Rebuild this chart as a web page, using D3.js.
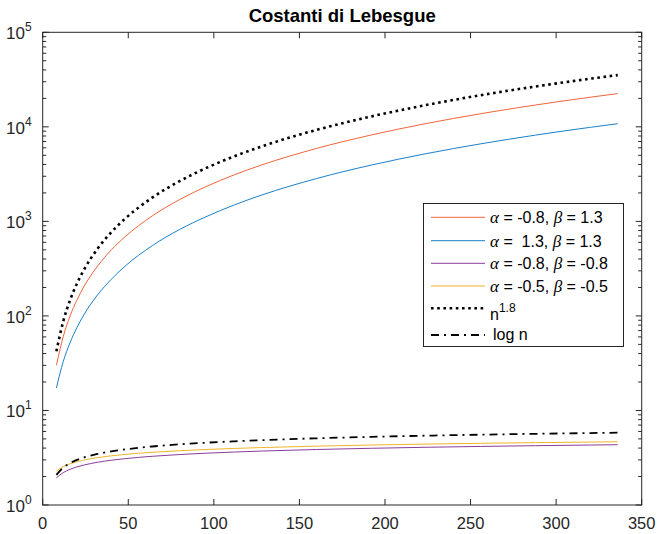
<!DOCTYPE html>
<html>
<head>
<meta charset="utf-8">
<script src="https://cdn.jsdelivr.net/npm/d3@7"></script>
<style>
  body { margin: 0; background: #fff; }
  svg { display: block; font-family: "Liberation Sans", Arial, sans-serif; }
</style>
</head>
<body>
<div id="chart"></div>
<script>
// grado n
const nValues = [8, 12, 16, 20, 24, 32, 40, 48, 64, 80, 96, 112, 128, 160, 192, 224, 256, 288, 320, 336];

// costanti di Lebesgue
const lebA = [30.0, 60.4, 100, 147, 203, 335, 497, 685, 1141, 1700, 2359, 3110, 3955, 5909, 8205, 10828, 13771, 17024, 20578, 22468];
const lebB = [17.3, 32.9, 52.2, 75.4, 102.2, 166.4, 243, 334.5, 553, 821, 1132, 1494, 1900, 2839, 3941, 5201, 6615, 8178, 9885, 10793];
const lebC = [1.940, 2.200, 2.385, 2.528, 2.645, 2.830, 2.973, 3.090, 3.275, 3.418, 3.535, 3.634, 3.720, 3.863, 3.980, 4.080, 4.165, 4.241, 4.308, 4.340];
const lebD = [2.286, 2.544, 2.728, 2.870, 2.986, 3.169, 3.311, 3.427, 3.610, 3.752, 3.868, 3.966, 4.051, 4.193, 4.309, 4.408, 4.493, 4.568, 4.634, 4.666];
const nPow = [42.2, 87.6, 147.0, 219.7, 305.1, 512, 765, 1062, 1783, 2664, 3699, 4882, 6208, 9277, 12882, 16998, 21619, 26726, 32305, 35272];
const logN = [2.079, 2.485, 2.773, 2.996, 3.178, 3.466, 3.689, 3.871, 4.159, 4.382, 4.564, 4.718, 4.852, 5.075, 5.257, 5.412, 5.545, 5.663, 5.768, 5.817];

const xTicks = [0, 50, 100, 150, 200, 250, 300, 350];
const yDecades = [0, 1, 2, 3, 4, 5];

const series = [
  { values: lebA, color: "#f0643a", width: 1, dash: null, label: ["α", " = -0.8, ", "β", " = 1.3"] },
  { values: lebB, color: "#1a80c8", width: 1, dash: null, label: ["α", " =  1.3, ", "β", " = 1.3"] },
  { values: lebC, color: "#8a3d9a", width: 1, dash: null, label: ["α", " = -0.8, ", "β", " = -0.8"] },
  { values: lebD, color: "#f0b52a", width: 1, dash: null, label: ["α", " = -0.5, ", "β", " = -0.5"] },
  { values: nPow, color: "#000", width: 2.6, dash: "2.6,3.6", label: null },
  { values: logN, color: "#000", width: 1.8, dash: "8,5,2,5", label: null }
];

const width = 658, height = 534;
const m = { left: 42.7, right: 641.7, top: 32.3, bottom: 505 };
const axisColor = "#262626";

const svg = d3.select("#chart").append("svg")
  .attr("width", width)
  .attr("height", height);

const x = d3.scaleLinear().domain([0, 350]).range([m.left, m.right]);
const y = d3.scaleLog().domain([1, 1e5]).range([m.bottom, m.top]);

// curves
const line = d3.line()
  .x((d, i) => x(nValues[i]))
  .y(d => y(d))
  .curve(d3.curveMonotoneX);

svg.append("g")
  .attr("fill", "none")
  .selectAll("path")
  .data(series)
  .join("path")
  .attr("d", d => line(d.values))
  .attr("stroke", d => d.color)
  .attr("stroke-width", d => d.width)
  .attr("stroke-dasharray", d => d.dash);

// box
svg.append("rect")
  .attr("x", m.left).attr("y", m.top)
  .attr("width", m.right - m.left).attr("height", m.bottom - m.top)
  .attr("fill", "none")
  .attr("stroke", axisColor)
  .attr("stroke-width", 1);

// x ticks (bottom and top, inward)
const gx = svg.append("g").attr("stroke", axisColor).attr("stroke-width", 1);
xTicks.forEach(t => {
  gx.append("line").attr("x1", x(t)).attr("x2", x(t)).attr("y1", m.bottom).attr("y2", m.bottom - 6);
  gx.append("line").attr("x1", x(t)).attr("x2", x(t)).attr("y1", m.top).attr("y2", m.top + 6);
});
svg.append("g")
  .selectAll("text")
  .data(xTicks)
  .join("text")
  .attr("x", d => x(d))
  .attr("y", 529)
  .attr("text-anchor", "middle")
  .attr("font-size", 16.5)
  .attr("fill", axisColor)
  .text(d => d);

// y ticks, major + minor, left and right
const gy = svg.append("g").attr("stroke", axisColor).attr("stroke-width", 1);
yDecades.forEach(e => {
  const v = Math.pow(10, e);
  gy.append("line").attr("x1", m.left).attr("x2", m.left + 6).attr("y1", y(v)).attr("y2", y(v));
  gy.append("line").attr("x1", m.right).attr("x2", m.right - 6).attr("y1", y(v)).attr("y2", y(v));
  if (e < 5) {
    for (let k = 2; k <= 9; k++) {
      const yy = y(k * v);
      gy.append("line").attr("x1", m.left).attr("x2", m.left + 3.5).attr("y1", yy).attr("y2", yy);
      gy.append("line").attr("x1", m.right).attr("x2", m.right - 3.5).attr("y1", yy).attr("y2", yy);
    }
  }
});

const yLab = svg.append("g").attr("fill", axisColor);
yDecades.forEach(e => {
  const t = yLab.append("text")
    .attr("x", 6)
    .attr("y", y(Math.pow(10, e)) + 7)
    .attr("font-size", 17);
  t.append("tspan").text("10");
  t.append("tspan").attr("font-size", 12).attr("dy", -8).text(e);
});

// title
svg.append("text")
  .attr("x", (m.left + m.right) / 2)
  .attr("y", 22)
  .attr("text-anchor", "middle")
  .attr("font-size", 18.5)
  .attr("font-weight", "bold")
  .attr("fill", "#000")
  .text("Costanti di Lebesgue");

// legend
const lg = svg.append("g");
lg.append("rect")
  .attr("x", 423.5).attr("y", 203.5)
  .attr("width", 200).attr("height", 143)
  .attr("fill", "#fff")
  .attr("stroke", axisColor)
  .attr("stroke-width", 1);

const legendY = [217.3, 240.7, 263.3, 286, 308.3, 335];
series.forEach((s, i) => {
  lg.append("line")
    .attr("x1", 431).attr("x2", 485)
    .attr("y1", legendY[i]).attr("y2", legendY[i])
    .attr("stroke", s.color)
    .attr("stroke-width", s.width)
    .attr("stroke-dasharray", s.dash);
});

series.slice(0, 4).forEach((s, i) => {
  const t = lg.append("text")
    .attr("x", 490)
    .attr("y", legendY[i] + 6)
    .attr("font-size", 16)
    .attr("fill", "#000")
    .style("white-space", "pre");
  s.label.forEach((part, j) => {
    const sp = t.append("tspan").text(part);
    if (j % 2 === 0) sp.attr("font-style", "italic").attr("font-size", 17).attr("font-family", "'Liberation Serif', serif");
  });
});

const tp = lg.append("text")
  .attr("x", 490).attr("y", 320)
  .attr("font-size", 16).attr("fill", "#000");
tp.append("tspan").text("n");
tp.append("tspan").attr("font-size", 12).attr("dy", -8).text("1.8");

lg.append("text")
  .attr("x", 493).attr("y", 340)
  .attr("font-size", 16).attr("fill", "#000")
  .text("log n");
</script>
</body>
</html>
